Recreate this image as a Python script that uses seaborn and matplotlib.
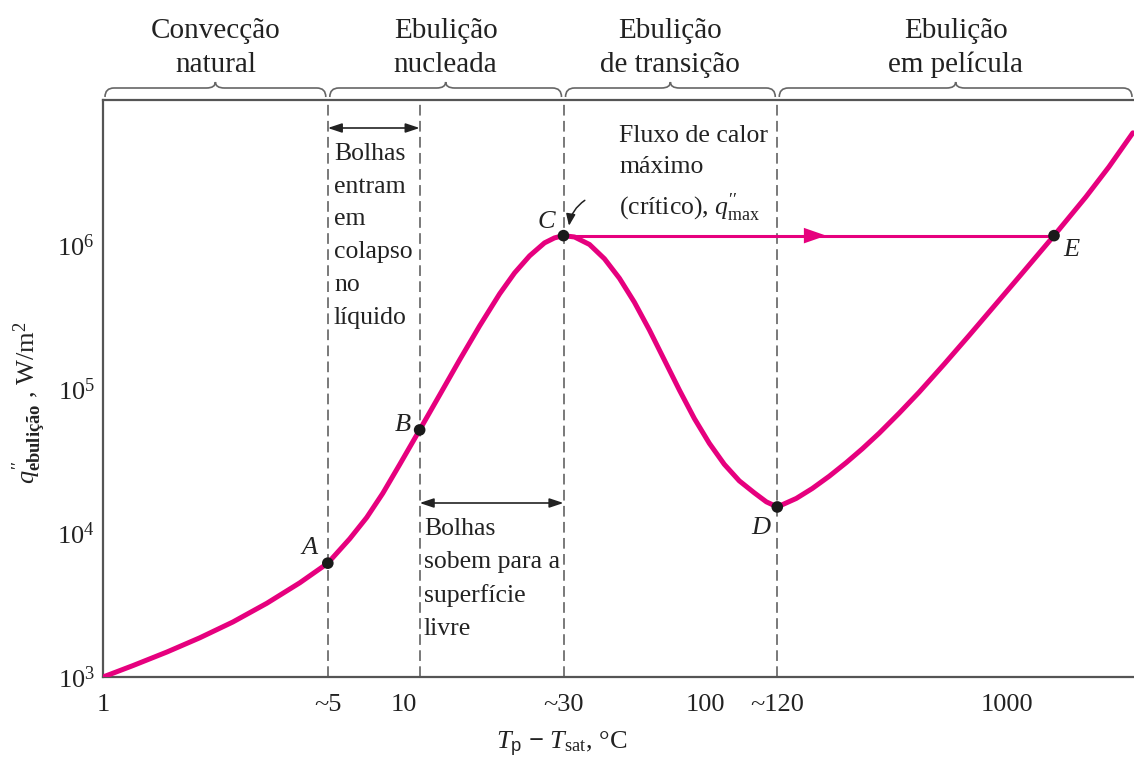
import numpy as np
import matplotlib
matplotlib.use("Agg")
import matplotlib.pyplot as plt
import seaborn as sns
from matplotlib.path import Path
from matplotlib.patches import PathPatch

# Boiling curve (dT in C, q in W/m2)
dT_curve = [1.0, 1.257, 1.631, 2.097, 2.699, 3.499, 4.503, 5.577, 6.596, 7.510,
            8.486, 9.662, 11.256, 13.12, 15.28, 17.80, 20.74, 23.26, 26.08, 29.24,
            31.56, 33.81, 36.78, 41.24, 46.24, 51.85, 58.14, 65.20, 73.11, 81.98,
            91.94, 103.1, 115.6, 129.6, 145.4, 159.4, 173.3, 200.4, 226.4, 257.8,
            293.6, 331.7, 377.6, 439.9, 512.5, 620.6, 751.0, 908.8, 1100.0, 1437.8,
            1835.0, 2188.0, 2627.0]
q_curve = [1000, 1200, 1492, 1873, 2411, 3252, 4514, 6178, 9128, 12830,
           18850, 29930, 52060, 91140, 159600, 274900, 458700, 641900, 842600, 1037500,
           1123700, 1165000, 1140000, 1011300, 804400, 588800, 401100, 257400, 159300, 98570,
           62480, 42010, 30020, 23060, 19030, 16480, 15180, 17400, 20390, 24820,
           30850, 38420, 49380, 68010, 95170, 148960, 235750, 376260, 601170, 1165000,
           2165700, 3500700, 6031900]

point_names = ["A", "B", "C", "D", "E"]
point_dT = [5.577, 11.256, 33.81, 173.3, 1437.8]
point_q = [6178, 52060, 1165000, 15180, 1165000]

# region boundaries (dashed lines) and headers
boundary_dT = [5.577, 11.256, 33.81, 173.3]
regions = ["Convecção\nnatural", "Ebulição\nnucleada", "Ebulição\nde transição", "Ebulição\nem película"]
region_edges = [1.0, 5.577, 33.81, 173.3, 2650.0]

xtick_pos = [1, 5.577, 10, 33.81, 100, 173.3, 1000]
xtick_labels = ["1", "~5", "10", "~30", "100", "~120", "1000"]
ytick_pos = [1e3, 1e4, 1e5, 1e6]
ytick_labels = [r"$10^3$", r"$10^4$", r"$10^5$", r"$10^6$"]

pink = "#E6007E"
dash_col = "#555555"
txt = "#222222"

sns.set_theme(style="white")
plt.rcParams["font.family"] = ["Liberation Serif", "DejaVu Serif"]
plt.rcParams["mathtext.fontset"] = "custom"
plt.rcParams["mathtext.rm"] = "Liberation Serif"
plt.rcParams["mathtext.it"] = "Liberation Serif:italic"
plt.rcParams["mathtext.bf"] = "Liberation Serif:bold"
plt.rcParams["mathtext.sf"] = "Liberation Sans"

W, H = 1134, 761
fig = plt.figure(figsize=(W / 100, H / 100), dpi=100)
ax = fig.add_axes([103 / W, 1 - 677 / H, (W - 103) / W, (677 - 100) / H])
ax.set_xscale("log")
ax.set_yscale("log")
xmin, xmax = 1.0, 2650.0
ymin, ymax = 1e3, 1.02e7
ax.set_xlim(xmin, xmax)
ax.set_ylim(ymin, ymax)

for x in boundary_dT:
    ax.axvline(x, color=dash_col, lw=1.1, ls=(0, (7, 3.5)), zorder=1)

# horizontal jump C -> E
sns.lineplot(x=[point_dT[2], point_dT[4]], y=[point_q[2], point_q[4]], ax=ax,
             color=pink, lw=2.2, estimator=None, sort=False, zorder=2)
ax.annotate("", xy=(252, point_q[2]), xytext=(200, point_q[2]),
            arrowprops=dict(arrowstyle="-|>,head_length=1.15,head_width=0.4",
                            color=pink, lw=0, mutation_scale=14, shrinkA=0, shrinkB=0), zorder=3)

sns.lineplot(x=dT_curve, y=q_curve, ax=ax, color=pink, lw=3.6,
             estimator=None, sort=False, zorder=3)
for ln in ax.get_lines():
    ln.set_solid_joinstyle("round")
sns.scatterplot(x=point_dT, y=point_q, ax=ax, color="#1a1a1a", s=70,
                edgecolor="none", zorder=4)

lab_off = {"A": (-18, 15), "B": (-17, 5), "C": (-17, 14), "D": (-16, -21), "E": (17, -14)}
for n, x, y in zip(point_names, point_dT, point_q):
    dx, dy = lab_off[n]
    ax.annotate(n, (x, y), xytext=(dx, dy), textcoords="offset pixels",
                ha="center", va="center", fontsize=19, style="italic", color=txt)

ax.set_xticks(xtick_pos)
ax.set_xticklabels(xtick_labels)
ax.set_yticks(ytick_pos)
ax.set_yticklabels(ytick_labels)
ax.minorticks_off()
ax.tick_params(axis="both", direction="in", length=8, width=1.2, color="#444444",
               labelsize=19, labelcolor=txt)
ax.tick_params(axis="x", pad=12)
ax.tick_params(axis="y", pad=6)
for s in ["left", "bottom", "top"]:
    ax.spines[s].set_color("#555555")
    ax.spines[s].set_linewidth(1.6)
ax.spines["right"].set_visible(False)

ax.set_xlabel(r"$T_{\mathsf{p}}$ $\mathbf{-}$ $T_{\mathrm{sat}}$, °C", fontsize=19, color=txt)
ax.xaxis.label.set_va("center")
ax.xaxis.set_label_coords((562 - 103) / (W - 103), -(744 - 677) / 577)
ax.set_ylabel(r"$q^{\prime\prime}_{\mathbf{ebulição}}$ , W/m$^2$", fontsize=19, color=txt)
ax.yaxis.label.set_va("center")
ax.yaxis.set_label_coords(-(103 - 30) / (W - 103), (677 - 403) / 577)


def frac(x):
    return (np.log10(x) - np.log10(xmin)) / (np.log10(xmax) - np.log10(xmin))


# curly braces over the regions, drawn in axes fraction
aw, ah = W - 103, 577
for i, name in enumerate(regions):
    x0 = frac(region_edges[i]) + 2 / aw
    x1 = frac(region_edges[i + 1]) - 2 / aw
    xm = (x0 + x1) / 2
    yb, yl, yt = 1 + 3 / ah, 1 + 12 / ah, 1 + 18 / ah
    e, m = 9 / aw, 9 / aw
    verts = [(x0, yb), (x0, yl), (x0 + e, yl), (xm - m, yl), (xm, yl), (xm, yt),
             (xm, yl), (xm + m, yl), (x1 - e, yl), (x1, yl), (x1, yb)]
    codes = [Path.MOVETO, Path.CURVE3, Path.CURVE3, Path.LINETO, Path.CURVE3, Path.CURVE3,
             Path.CURVE3, Path.CURVE3, Path.LINETO, Path.CURVE3, Path.CURVE3]
    ax.add_patch(PathPatch(Path(verts, codes), transform=ax.transAxes, fill=False,
                           edgecolor="#666666", lw=1.2, clip_on=False))
    ax.text(xm, 1 + 22 / ah, name, transform=ax.transAxes, ha="center", va="bottom",
            fontsize=21, linespacing=1.38, color=txt)

# double arrows between dashed lines
for (xa, xb), yp in [((boundary_dT[0], boundary_dT[1]), 128), ((boundary_dT[1], boundary_dT[2]), 503)]:
    ax.annotate("", xy=(xa, (677 - yp) / 577), xytext=(xb, (677 - yp) / 577),
                xycoords=("data", "axes fraction"), textcoords=("data", "axes fraction"),
                arrowprops=dict(arrowstyle="<|-|>,head_length=0.6,head_width=0.2", color=txt,
                                lw=1.2, shrinkA=0, shrinkB=0, mutation_scale=14))

fig.text(334 / W, 1 - 143 / H, "Bolhas\nentram\nem\ncolapso\nno\nlíquido", ha="left", va="top",
         fontsize=18.5, linespacing=1.63, color=txt)
fig.text(424 / W, 1 - 518 / H, "Bolhas\nsobem para a\nsuperfície\nlivre", ha="left", va="top",
         fontsize=18.5, linespacing=1.63, color=txt)
fig.text(619 / W, 1 - 125 / H, "Fluxo de calor\nmáximo\n(crítico), " + r"$q^{\prime\prime}_{\mathrm{max}}$",
         ha="left", va="top", fontsize=18.5, linespacing=1.55, color=txt)

# curved pointer to C
ax.annotate("", xy=(point_dT[2] * 1.04, point_q[2] * 1.12), xytext=(40.5, 2.1e6),
            arrowprops=dict(arrowstyle="-|>,head_length=0.5,head_width=0.2", color=txt,
                            lw=1.1, connectionstyle="arc3,rad=0.25", mutation_scale=14))

fig.savefig("out.png", dpi=100)
